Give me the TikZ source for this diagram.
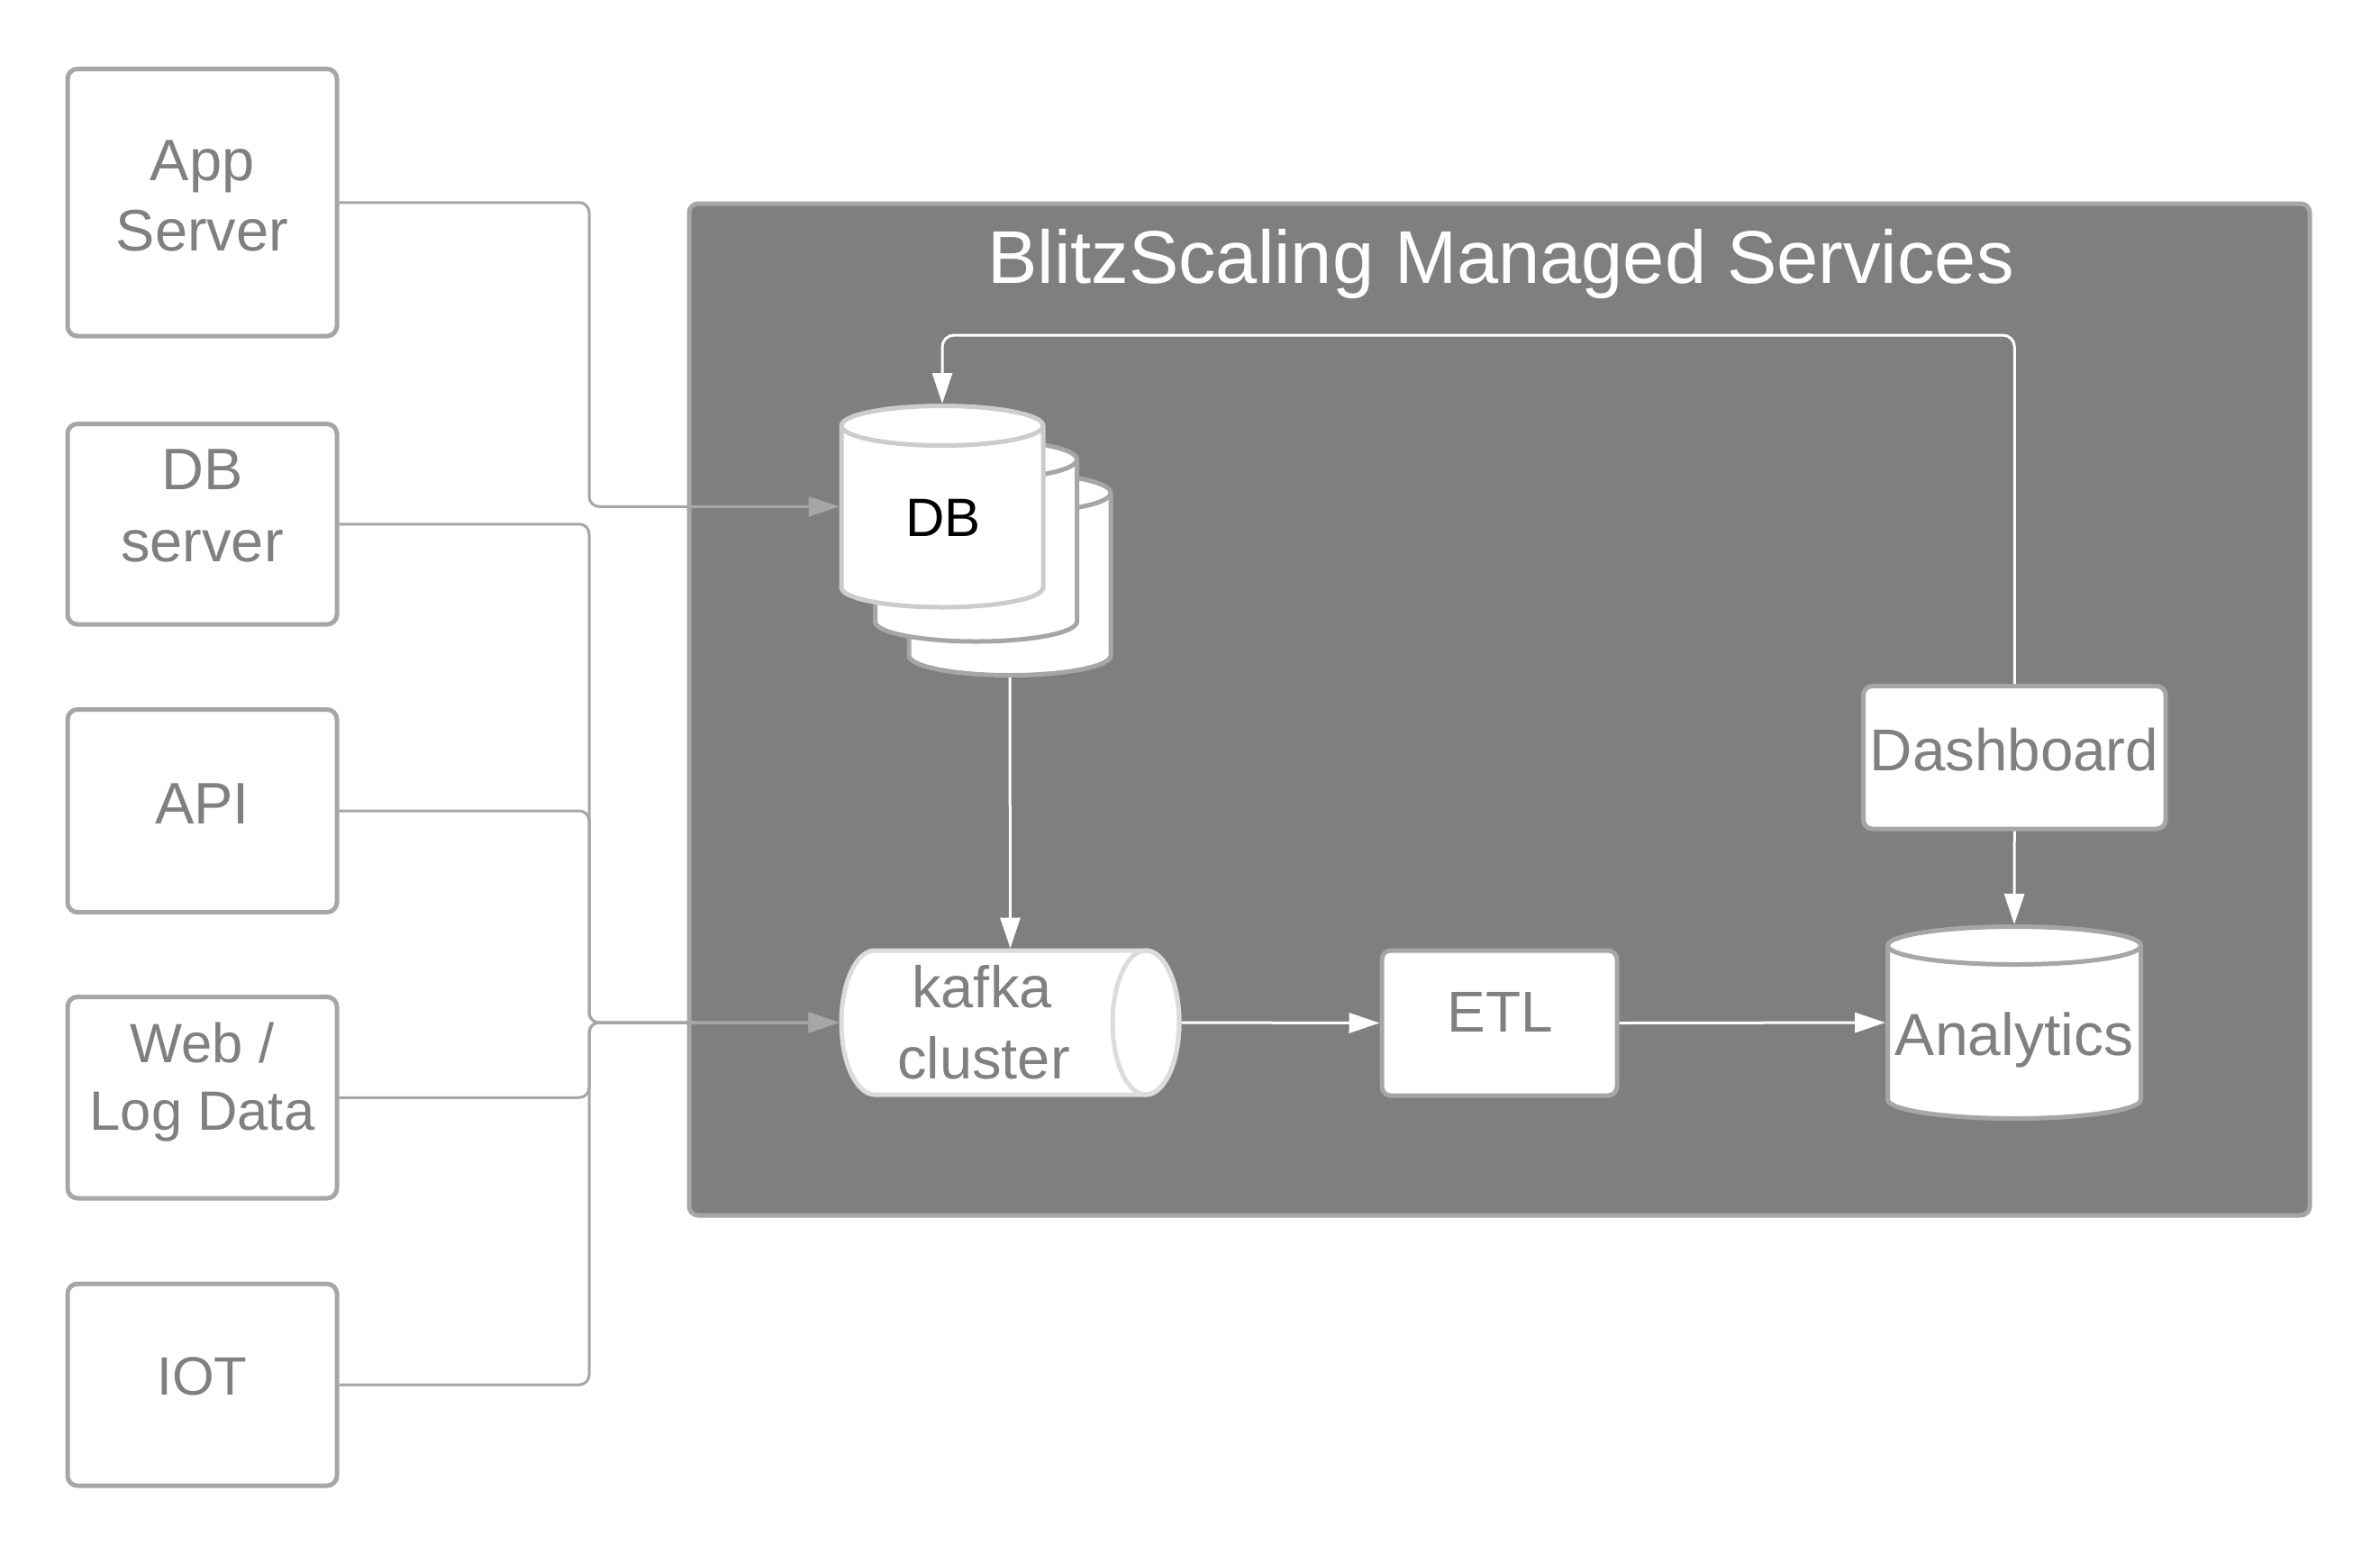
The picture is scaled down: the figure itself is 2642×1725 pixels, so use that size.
\documentclass[tikz,border=0pt]{standalone}
\usepackage{fontspec}
\setmainfont{Liberation Sans}
\usetikzlibrary{arrows.meta,calc}
\definecolor{edgegray}{HTML}{A6A6A6}
\definecolor{txtgray}{HTML}{808080}
\definecolor{panelgray}{HTML}{7F7F7F}
\definecolor{lightedge}{HTML}{CCCCCC}
\definecolor{kafkaedge}{HTML}{DCDCDC}
\newcommand{\vcylinder}[6]{%
  \path[fill=white,draw=#6,line width=5pt,line join=round]
    ({#1-#4},#2) -- ({#1-#4},#3)
    arc[start angle=180,end angle=0,x radius=#4,y radius=#5]
    -- ({#1+#4},#2)
    arc[start angle=0,end angle=-180,x radius=#4,y radius=#5] -- cycle;
  \draw[draw=#6,line width=5pt] ({#1-#4},#2)
    arc[start angle=180,end angle=0,x radius=#4,y radius=#5];
}
\tikzset{
  srcbox/.style={draw=edgegray,fill=white,line width=5pt,rounded corners=11pt,
    inner sep=0pt,minimum width=299pt},
  innerbox/.style={draw=edgegray,fill=white,line width=5pt,rounded corners=10pt,
    inner sep=0pt},
  ghost/.style={inner sep=0pt,outer sep=0pt},
  lbl/.style={font=\fontsize{65}{78}\selectfont,text=txtgray,inner sep=0pt,anchor=base},
  smlbl/.style={lbl,font=\fontsize{61.5}{74}\selectfont},
  gline/.style={draw=edgegray,line width=3pt,rounded corners=11pt},
  garrow/.style={gline,-{Triangle[length=34pt,width=22pt]}},
  wline/.style={draw=white,line width=3pt,rounded corners=13pt},
  warrow/.style={wline,-{Triangle[length=34pt,width=22pt]}},
}
\begin{document}
\begin{tikzpicture}[x=1pt,y=-1pt]
\useasboundingbox[fill=white] (0,0) rectangle (2642,1725);

% container
\node[draw=edgegray,fill=panelgray,line width=5pt,rounded corners=10pt,inner sep=0pt,
  minimum width=1799pt,minimum height=1123pt] (svc) at (1664.5,787.5) {};
\node[font=\fontsize{83}{100}\selectfont,text=white,inner sep=0pt,anchor=base] (title) at (1666,314) {BlitzScaling Managed Services};

% source boxes
\node[srcbox,minimum height=296.5pt] (app) at (224.5,224.75) {};
\node[srcbox,minimum height=222.5pt] (dbs) at (224.5,581.75) {};
\node[srcbox,minimum height=225pt] (api) at (224.5,900) {};
\node[srcbox,minimum height=223.5pt] (web) at (224.5,1218.25) {};
\node[srcbox,minimum height=224pt] (iot) at (224.5,1537) {};

\node[lbl] (appA) at (224.5,200) {App};
\node[lbl] (appB) at (224.5,278.5) {Server};
\node[lbl] (dbsA) at (224.5,543) {DB};
\node[lbl] (dbsB) at (224.5,623) {server};
\node[lbl] (apiA) at (224.5,914) {API};
\node[smlbl] (webA) at (224.5,1179) {Web /};
\node[smlbl] (webB) at (224.5,1254) {Log Data};
\node[lbl,font=\fontsize{60}{72}\selectfont] (iotA) at (224.5,1548) {IOT};

% DB stack
\vcylinder{1121}{547}{727.5}{112}{22}{edgegray}
\vcylinder{1083.5}{510}{690}{112}{22}{edgegray}
\vcylinder{1046}{472.5}{652}{112}{22}{lightedge}
\node[ghost,minimum width=229pt,minimum height=229.5pt] (db3) at (1121,637.25) {};
\node[ghost,minimum width=229pt,minimum height=228.5pt] (db) at (1046,562.25) {};
\node[font=\fontsize{60}{72}\selectfont,text=black,inner sep=0pt,anchor=base] (dbA) at (1047,595) {DB};

% kafka cylinder
\path[fill=white,draw=kafkaedge,line width=5pt]
  (971,1055) -- (1272,1055) arc[start angle=-90,end angle=90,x radius=37,y radius=80]
  -- (971,1215) arc[start angle=90,end angle=270,x radius=37,y radius=80] -- cycle;
\draw[kafkaedge,line width=5pt] (1272,1135) ellipse[x radius=37,y radius=80];
\node[ghost,minimum width=380pt,minimum height=165pt] (kafka) at (1121.5,1135) {};
\node[lbl] (kafkaA) at (1090,1118) {kafka};
\node[lbl] (kafkaB) at (1092,1197) {cluster};

% ETL
\node[innerbox,minimum width=261pt,minimum height=161pt] (etl) at (1664.5,1135.5) {};
\node[lbl,font=\fontsize{64}{77}\selectfont] (etlA) at (1665,1145) {ETL};

% Dashboard
\node[innerbox,minimum width=335.5pt,minimum height=158.5pt] (dash) at (2236.25,840.75) {};
\node[lbl,font=\fontsize{65.5}{78}\selectfont] (dashA) at (2236,855) {Dashboard};

% Analytics cylinder
\vcylinder{2236}{1049.5}{1220.5}{140.5}{21}{edgegray}
\node[ghost,minimum width=286pt,minimum height=218pt] (ana) at (2236,1135) {};
\node[lbl,font=\fontsize{66}{79}\selectfont] (anaA) at (2236,1171) {Analytics};

% gray connectors from sources
\coordinate (jx) at (654,0);
\coordinate (fb) at (0,372);
\draw[garrow] (app.east) -- (app.east -| jx) -- (jx |- db.west) -- (db.west);
\draw[garrow] (dbs.east) -- (dbs.east -| jx) -- (jx |- kafka.west) -- (kafka.west);
\draw[garrow] (api.east) -- (api.east -| jx) -- (jx |- kafka.west) -- (kafka.west);
\draw[garrow] (web.east) -- (web.east -| jx) -- (jx |- kafka.west) -- (kafka.west);
\draw[garrow] (iot.east) -- (iot.east -| jx) -- (jx |- kafka.west) -- (kafka.west);

% white connectors
\draw[warrow] (dash.north) -- (dash.north |- fb) -- (fb -| db.north) -- (db.north);
\draw[warrow] (db3.south) -- (kafka.north);
\draw[warrow] (kafka.east) -- (etl.west);
\draw[warrow] (etl.east) -- (ana.west);
\draw[warrow] (dash.south) -- (ana.north);
\end{tikzpicture}
\end{document}
